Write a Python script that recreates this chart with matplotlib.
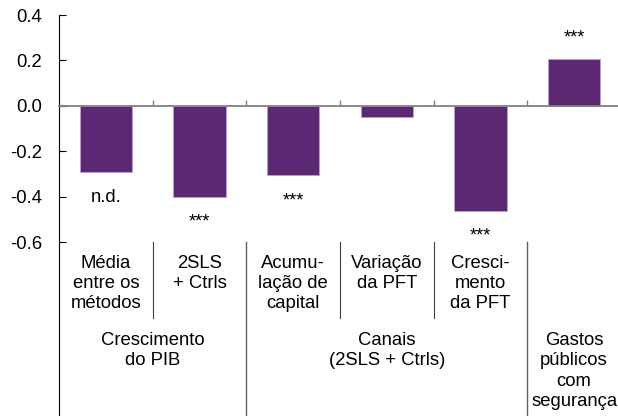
import matplotlib
matplotlib.use("Agg")
import matplotlib.pyplot as plt
import matplotlib.transforms as mtransforms

plt.rcParams['font.family'] = ['Liberation Sans', 'DejaVu Sans']

# ===============================
# DATA
# ===============================
CATEGORIES = [
    "Média\nentre os\nmétodos",
    "2SLS\n+ Ctrls",
    "Acumu-\nlação de\ncapital",
    "Variação\nda PFT",
    "Cresci-\nmento\nda PFT",
    "",
]
VALUES = [-0.29, -0.40, -0.305, -0.05, -0.462, 0.204]
SIGNIF = ["n.d.", "***", "***", "", "***", "***"]

GROUP_LABELS = ["Crescimento\ndo PIB", "Canais\n(2SLS + Ctrls)", "Gastos\npúblicos\ncom\nsegurança"]
GROUP_SPANS = [(0, 1), (2, 4), (5, 5)]

Y_TICKS = [-0.6, -0.4, -0.2, 0.0, 0.2, 0.4]

BAR_COLOR = "#5C2873"
FS = 13.3
W, H = 618, 416


def fy(px):
    # pixel row -> figure fraction
    return 1 - px / H


fig = plt.figure(figsize=(W / 100, H / 100), dpi=100)
ax = fig.add_axes([59 / W, fy(242), 562 / W, 227 / H])

x = list(range(len(VALUES)))
ax.bar(x, VALUES, width=0.56, color=BAR_COLOR, edgecolor="#B9A3C9", linewidth=0.6, zorder=2)

ax.set_xlim(-0.5, len(VALUES) - 0.5)
ax.set_ylim(-0.6, 0.4)
ax.set_yticks(Y_TICKS)
ax.set_yticklabels(["{:.1f}".format(v) for v in Y_TICKS])

for s in ["top", "right"]:
    ax.spines[s].set_visible(False)
ax.spines["bottom"].set_position(("data", 0))
ax.spines["bottom"].set_color("#808080")
ax.spines["bottom"].set_linewidth(1.3)
ax.spines["bottom"].set_zorder(3)
ax.spines["left"].set_color("black")
ax.spines["left"].set_linewidth(0.8)

ax.set_xticks([i + 0.5 for i in range(len(VALUES) - 1)])
ax.set_xticklabels([])
ax.tick_params(axis="x", direction="in", length=4, color="#808080", width=1)
ax.tick_params(axis="y", direction="in", length=5, width=0.8, labelsize=FS, pad=12)

# significance labels
for i, (v, s) in enumerate(zip(VALUES, SIGNIF)):
    if not s:
        continue
    off = -30 if v < 0 else 17
    ax.annotate(s, (i, v), xytext=(0, off), textcoords="offset pixels",
                ha="center", va="baseline", fontsize=FS)

# labels and separators below the axis
blend = mtransforms.blended_transform_factory(ax.transData, fig.transFigure)

for i, lab in enumerate(CATEGORIES):
    ax.text(i, fy(255), lab, transform=blend, ha="center", va="top",
            fontsize=FS, linespacing=1.24)

for (a, b), lab in zip(GROUP_SPANS, GROUP_LABELS):
    ax.text((a + b) / 2, fy(332), lab, transform=blend, ha="center", va="top",
            fontsize=FS, linespacing=1.26)

# left spine continues to the bottom
ax.plot([-0.5, -0.5], [fy(242), 0], transform=blend, color="black", lw=0.8, clip_on=False)

# separators inside groups
for a, b in GROUP_SPANS:
    for k in range(a, b):
        ax.plot([k + 0.5, k + 0.5], [fy(242), fy(318)], transform=blend,
                color="#404040", lw=0.8, clip_on=False)

# separators between groups
for a, b in GROUP_SPANS[:-1]:
    ax.plot([b + 0.5, b + 0.5], [fy(242), 0], transform=blend,
            color="#606060", lw=1.0, clip_on=False)

fig.savefig("out.png", dpi=100)
